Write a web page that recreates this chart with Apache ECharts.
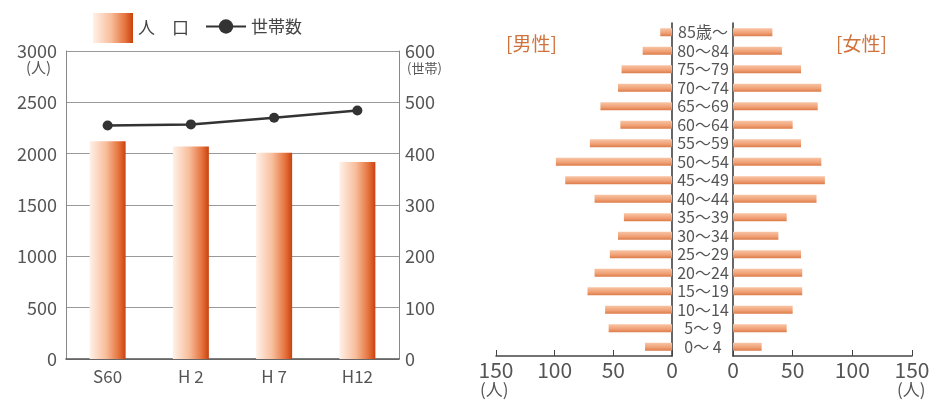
<!DOCTYPE html>
<html>
<head>
<meta charset="utf-8">
<script src="https://cdn.jsdelivr.net/npm/echarts@6/dist/echarts.min.js"></script>
<style>
  html, body { margin: 0; padding: 0; background: #fff; }
  #chart { width: 943px; height: 400px; }
</style>
</head>
<body>
<div id="chart"></div>
<script>
// 人口・世帯数の推移
const years = ['S60', 'H 2', 'H 7', 'H12']
const population = [2120, 2070, 2010, 1920]
const households = [455, 457, 470, 484]

// 年齢別人口（人口ピラミッド）
const ages = ['0〜 4', '5〜 9', '10〜14', '15〜19', '20〜24', '25〜29', '30〜34', '35〜39', '40〜44',
  '45〜49', '50〜54', '55〜59', '60〜64', '65〜69', '70〜74', '75〜79', '80〜84', '85歳〜']
const male = [23, 54, 57, 72, 66, 53, 46, 41, 66, 91, 99, 70, 44, 61, 46, 43, 25, 10]
const female = [24, 45, 50, 58, 58, 57, 38, 45, 70, 77, 74, 57, 50, 71, 74, 57, 41, 33]

const font = '"Noto Sans CJK JP", "Noto Sans", sans-serif'
const gray = '#555'
const plain = v => String(v)

const barGrad = new echarts.graphic.LinearGradient(0, 0, 1, 0, [
  { offset: 0, color: '#fff1e8' },
  { offset: 0.45, color: '#f8be9c' },
  { offset: 0.8, color: '#e6743f' },
  { offset: 1, color: '#c9420f' }
])
const pyrGrad = new echarts.graphic.LinearGradient(0, 0, 0, 1, [
  { offset: 0, color: '#f8c4a4' },
  { offset: 0.6, color: '#f0a074' },
  { offset: 1, color: '#dc7a48' }
])

const chart = echarts.init(document.getElementById('chart'))
chart.setOption({
  animation: false,
  textStyle: { fontFamily: font },
  legend: [
    {
      data: [{ name: '人　口', icon: 'rect' }],
      left: 88,
      top: 8,
      itemWidth: 40,
      itemHeight: 30,
      textStyle: { fontSize: 17, color: '#444', fontFamily: font }
    },
    {
      data: ['世帯数'],
      left: 200,
      top: 13,
      itemWidth: 40,
      itemHeight: 18,
      textStyle: { fontSize: 17, color: '#444', fontFamily: font }
    }
  ],
  grid: [
    { left: 66, right: 544, top: 51, bottom: 41 },
    { left: 496, width: 176, top: 23, height: 333 },
    { left: 733, width: 179, top: 23, height: 333 }
  ],
  xAxis: [
    {
      type: 'category',
      gridIndex: 0,
      data: years,
      axisLine: { lineStyle: { color: gray, width: 1.5 } },
      axisTick: { inside: true, length: 7, lineStyle: { color: gray, width: 1.5 } },
      axisLabel: { fontSize: 17, color: gray, margin: 9 }
    },
    {
      type: 'value',
      gridIndex: 1,
      inverse: true,
      min: 0,
      max: 150,
      interval: 50,
      splitLine: { show: false },
      axisLine: { show: true, lineStyle: { color: '#444', width: 1.5 } },
      axisTick: { show: true, inside: true, length: 6, lineStyle: { color: '#444' } },
      axisLabel: { fontSize: 21, color: gray, margin: 4, formatter: plain }
    },
    {
      type: 'value',
      gridIndex: 2,
      min: 0,
      max: 150,
      interval: 50,
      splitLine: { show: false },
      axisLine: { show: true, lineStyle: { color: '#444', width: 1.5 } },
      axisTick: { show: true, inside: true, length: 6, lineStyle: { color: '#444' } },
      axisLabel: { fontSize: 21, color: gray, margin: 4, formatter: plain }
    }
  ],
  yAxis: [
    {
      type: 'value',
      gridIndex: 0,
      min: 0,
      max: 3000,
      interval: 500,
      axisLine: { show: true, lineStyle: { color: '#888' } },
      axisTick: { show: false },
      splitLine: { lineStyle: { color: '#999' } },
      axisLabel: { fontSize: 18, color: gray, margin: 9, formatter: plain }
    },
    {
      type: 'value',
      gridIndex: 0,
      position: 'right',
      min: 0,
      max: 600,
      interval: 100,
      axisLine: { show: true, lineStyle: { color: '#888' } },
      axisTick: { show: false },
      splitLine: { show: false },
      axisLabel: { fontSize: 18, color: gray, margin: 6, formatter: plain }
    },
    {
      type: 'category',
      gridIndex: 1,
      position: 'right',
      data: ages,
      axisLine: { lineStyle: { color: '#333', width: 1.5 } },
      axisTick: { inside: true, length: 4, alignWithLabel: true, interval: 0, lineStyle: { color: '#333' } },
      axisLabel: { fontSize: 16, color: gray, align: 'center', margin: 31, interval: 0 }
    },
    {
      type: 'category',
      gridIndex: 2,
      data: ages,
      axisLine: { lineStyle: { color: '#333', width: 1.5 } },
      axisTick: { inside: true, length: 4, alignWithLabel: true, interval: 0, lineStyle: { color: '#333' } },
      axisLabel: { show: false }
    }
  ],
  series: [
    {
      name: '人　口',
      type: 'bar',
      xAxisIndex: 0,
      yAxisIndex: 0,
      data: population,
      barWidth: 36,
      itemStyle: { color: barGrad }
    },
    {
      name: '世帯数',
      type: 'line',
      xAxisIndex: 0,
      yAxisIndex: 1,
      data: households,
      symbol: 'circle',
      symbolSize: 10,
      lineStyle: { color: '#333', width: 2.5 },
      itemStyle: { color: '#333' }
    },
    {
      name: '男性',
      type: 'bar',
      xAxisIndex: 1,
      yAxisIndex: 2,
      data: male,
      barWidth: 8,
      itemStyle: { color: pyrGrad }
    },
    {
      name: '女性',
      type: 'bar',
      xAxisIndex: 2,
      yAxisIndex: 3,
      data: female,
      barWidth: 8,
      itemStyle: { color: pyrGrad }
    }
  ],
  graphic: [
    { type: 'text', left: 26, top: 60, style: { text: '(人)', fontSize: 15, fill: gray, fontFamily: font } },
    { type: 'text', left: 407, top: 62, style: { text: '(世帯)', fontSize: 13, fill: gray, fontFamily: font } },
    { type: 'text', left: 506, top: 34, style: { text: '[男性]', fontSize: 19, fill: '#d0723c', fontFamily: font } },
    { type: 'text', left: 836, top: 34, style: { text: '[女性]', fontSize: 19, fill: '#d0723c', fontFamily: font } },
    { type: 'text', left: 480, top: 381, style: { text: '(人)', fontSize: 17, fill: gray, fontFamily: font } },
    { type: 'text', left: 897, top: 381, style: { text: '(人)', fontSize: 17, fill: gray, fontFamily: font } }
  ]
})
</script>
</body>
</html>
